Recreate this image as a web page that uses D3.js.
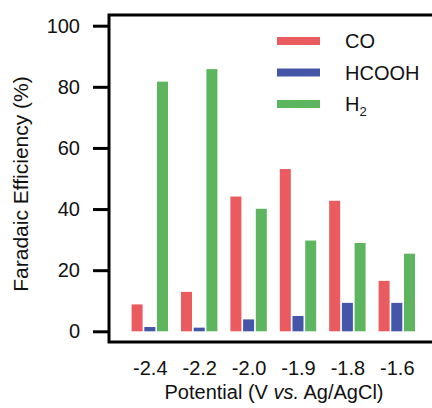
<!DOCTYPE html>
<html>
<head>
<meta charset="utf-8">
<script src="https://cdn.jsdelivr.net/npm/d3@7"></script>
<style>
  html, body { margin: 0; padding: 0; background: #fff; }
  svg { display: block; font-family: "Liberation Sans", Arial, Helvetica, sans-serif; }
</style>
</head>
<body>
<svg id="chart" width="432" height="408"></svg>
<script>
// Faradaic efficiency of each product at each applied potential
const potentials = ["-2.4", "-2.2", "-2.0", "-1.9", "-1.8", "-1.6"];
const coFE     = [8.8, 12.9, 44.1, 53.1, 42.7, 16.5];
const hcoohFE  = [1.4, 1.2, 3.9, 5.0, 9.3, 9.3];
const h2FE     = [81.7, 85.8, 40.1, 29.7, 28.9, 25.4];
const yTicks   = [0, 20, 40, 60, 80, 100];

const series = [
  { key: "CO",    values: coFE,    color: "#e95b5e" },
  { key: "HCOOH", values: hcoohFE, color: "#4555a8" },
  { key: "H2",    values: h2FE,    color: "#5db55f" }
];

const svg = d3.select("#chart");
const frame = { left: 109, right: 434, top: 15, bottom: 342 };
const fontSize = 20;

const y = d3.scaleLinear().domain([-3.5, 103.5]).range([frame.bottom, frame.top]);
const x = d3.scalePoint().domain(potentials).range([149.8, 396.8]);
const xInner = d3.scaleBand().domain(series.map(s => s.key))
  .range([-18.2, 18.2]).paddingInner(0.134);

// bars
const groups = svg.append("g").selectAll("g")
  .data(series).join("g")
  .attr("fill", d => d.color);

groups.selectAll("rect")
  .data(s => s.values.map((v, i) => ({ key: s.key, cat: potentials[i], v })))
  .join("rect")
  .attr("x", d => x(d.cat) + xInner(d.key))
  .attr("width", xInner.bandwidth())
  .attr("y", d => y(d.v))
  .attr("height", d => y(0) - y(d.v));

// frame
svg.append("rect")
  .attr("x", frame.left).attr("y", frame.top)
  .attr("width", frame.right - frame.left)
  .attr("height", frame.bottom - frame.top)
  .attr("fill", "none").attr("stroke", "#000").attr("stroke-width", 3);

// y axis
const yAxis = svg.append("g")
  .attr("transform", `translate(${frame.left},0)`)
  .call(d3.axisLeft(y).tickValues(yTicks).tickSize(16).tickPadding(13));
yAxis.select(".domain").remove();
yAxis.selectAll(".tick line").attr("stroke", "#000").attr("stroke-width", 3);
yAxis.selectAll(".tick text")
  .attr("font-size", fontSize).attr("fill", "#111")
  .attr("font-family", "Liberation Sans, Arial, sans-serif");

// x axis labels (no tick marks)
const xAxis = svg.append("g")
  .attr("transform", `translate(0,${frame.bottom})`)
  .call(d3.axisBottom(x).tickSize(0).tickPadding(19));
xAxis.select(".domain").remove();
xAxis.selectAll(".tick text")
  .attr("font-size", fontSize).attr("fill", "#111")
  .attr("font-family", "Liberation Sans, Arial, sans-serif");

// axis titles
svg.append("text")
  .attr("x", 274).attr("y", 399)
  .attr("text-anchor", "middle")
  .attr("font-size", fontSize).attr("fill", "#111")
  .call(t => {
    t.append("tspan").text("Potential (V ");
    t.append("tspan").attr("font-style", "italic").text("vs.");
    t.append("tspan").text(" Ag/AgCl)");
  });

svg.append("text")
  .attr("transform", "translate(28,184) rotate(-90)")
  .attr("text-anchor", "middle")
  .attr("font-size", 21).attr("fill", "#111")
  .text("Faradaic Efficiency (%)");

// legend
const legend = svg.append("g");
const legY = d3.scalePoint().domain(series.map(s => s.key)).range([41, 104]);
const item = legend.selectAll("g").data(series).join("g")
  .attr("transform", d => `translate(0,${legY(d.key)})`);
item.append("line")
  .attr("x1", 277).attr("x2", 320)
  .attr("stroke", d => d.color).attr("stroke-width", 8);
item.append("text")
  .attr("x", 345).attr("y", 7)
  .attr("font-size", fontSize).attr("fill", "#111")
  .each(function (d) {
    const t = d3.select(this);
    if (d.key === "H2") {
      t.append("tspan").text("H");
      t.append("tspan").attr("font-size", 13).attr("dy", 5).text("2");
    } else {
      t.text(d.key);
    }
  });
</script>
</body>
</html>
